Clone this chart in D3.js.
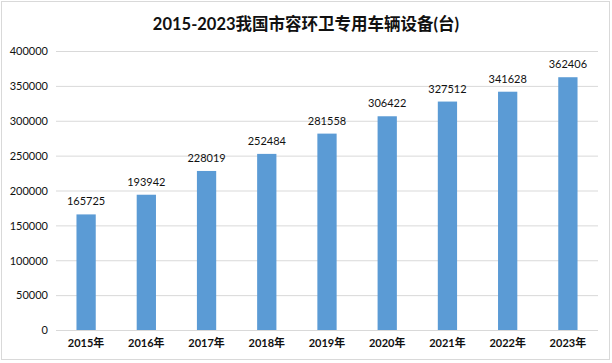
<!DOCTYPE html>
<html><head><meta charset="utf-8">
<script src="https://cdn.jsdelivr.net/npm/d3@7"></script>
<style>body{margin:0;background:#fff}svg{display:block}</style>
</head><body>
<svg id="c" width="612" height="363"></svg>
<script>
const years = ["2015年","2016年","2017年","2018年","2019年","2020年","2021年","2022年","2023年"];
const values = [165725,193942,228019,252484,281558,306422,327512,341628,362406];
const yTicks = [0,50000,100000,150000,200000,250000,300000,350000,400000];
const title = "2015-2023我国市容环卫专用车辆设备(台)";

const svg = d3.select("#c");
const font = "Lato, 'Noto Sans CJK SC', sans-serif";
svg.append("rect").attr("x",1.5).attr("y",1.5).attr("width",608).attr("height",358)
  .attr("fill","#fff").attr("stroke","#d9d9d9");

const x = d3.scaleBand().domain(years).range([56,598]).paddingInner(0.68).paddingOuter(0.34);
const y = d3.scaleLinear().domain([0,400000]).range([330,51]);

svg.append("g").selectAll("line").data(yTicks).join("line")
  .attr("x1",56).attr("x2",598).attr("y1",d=>y(d)+0.5).attr("y2",d=>y(d)+0.5)
  .attr("stroke","#d9d9d9");

const yAxis = d3.axisLeft(y).tickValues(yTicks).tickSize(0).tickPadding(0).tickFormat(d3.format("d"));
const ga = svg.append("g").attr("transform","translate(48,0)").call(yAxis);
ga.select(".domain").remove();
ga.selectAll("text").attr("font-family",font).attr("font-size",11).attr("fill","#111").attr("dy","0.35em");

svg.append("g").selectAll("rect").data(values).join("rect")
  .attr("x",(d,i)=>x(years[i])).attr("width",x.bandwidth())
  .attr("y",d=>y(d)).attr("height",d=>y(0)-y(d)).attr("fill","#5b9bd5");

svg.append("g").selectAll("text").data(values).join("text")
  .attr("x",(d,i)=>x(years[i])+x.bandwidth()/2).attr("y",d=>y(d)-9)
  .attr("text-anchor","middle").attr("font-family",font).attr("font-size",11).attr("fill","#111")
  .text(d=>d);

const xAxis = d3.axisBottom(x).tickSize(0).tickPadding(0);
const gx = svg.append("g").attr("transform","translate(0,339)").call(xAxis);
gx.select(".domain").remove();
gx.selectAll("text").attr("font-family",font).attr("font-size",11).attr("font-weight","bold").attr("fill","#111").attr("dy","0.71em");

svg.append("text").attr("x",306).attr("y",30).attr("text-anchor","middle")
  .attr("font-family",font).attr("font-size",16.5).attr("font-weight","bold").attr("fill","#111").text(title);
</script>
</body></html>
